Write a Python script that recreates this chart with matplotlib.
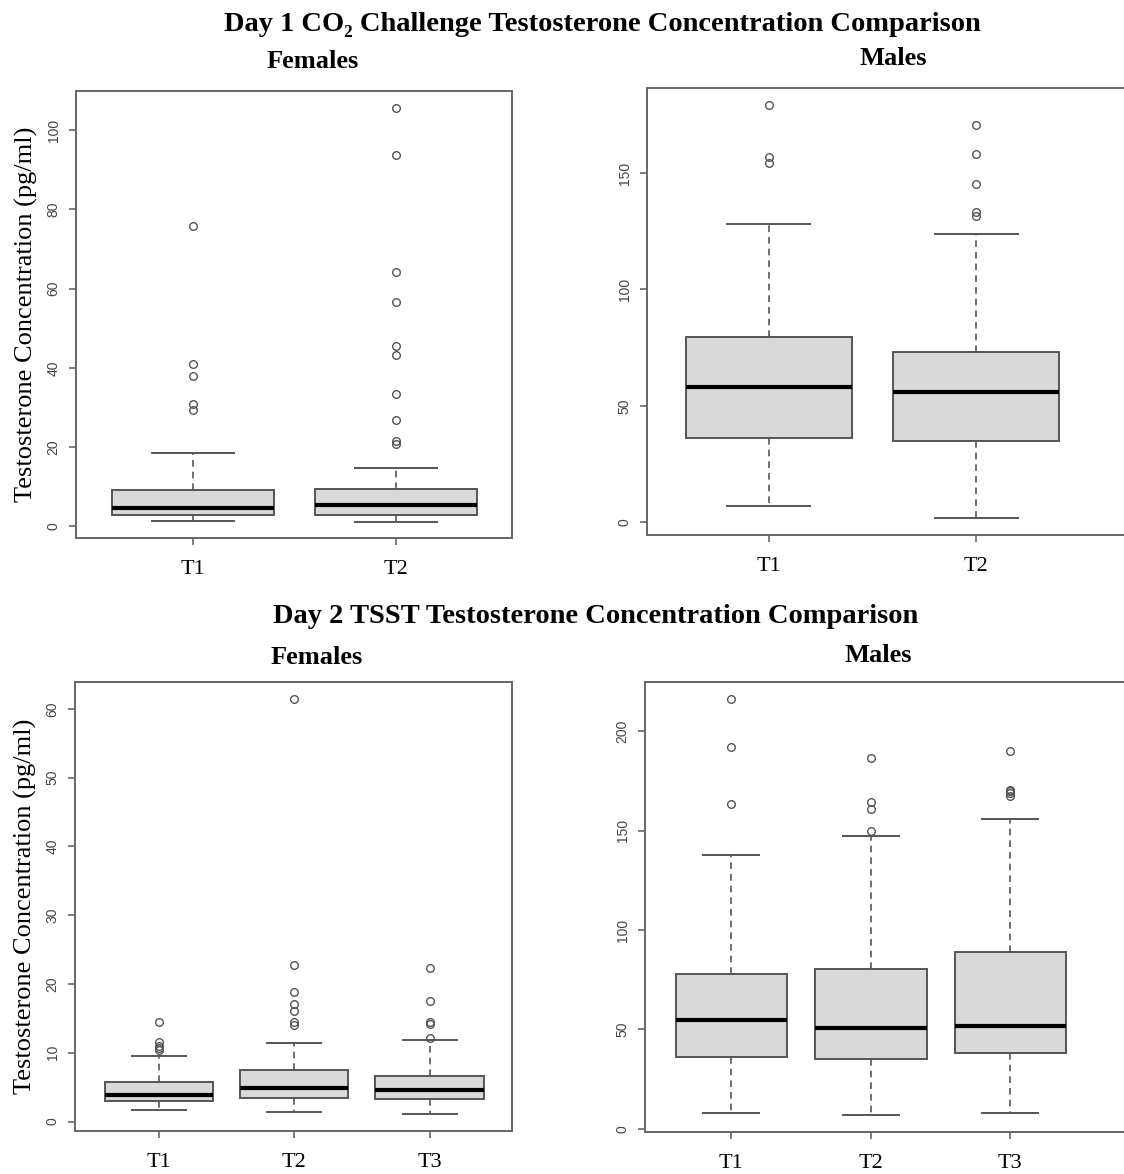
import matplotlib.pyplot as plt

W, H = 1124, 1174

# Day 1 CO2 challenge, females
d1f_labels = ['T1', 'T2']
d1f_med = [4.65, 5.3]
d1f_q1 = [2.8, 2.9]
d1f_q3 = [9.1, 9.35]
d1f_lo = [1.3, 1.1]
d1f_hi = [18.6, 14.6]
d1f_out = [[75.9, 40.9, 38.0, 30.9, 29.4],
           [105.6, 93.8, 64.2, 56.7, 45.6, 43.3, 33.4, 26.8, 21.5, 20.8]]

# Day 1 CO2 challenge, males
d1m_labels = ['T1', 'T2']
d1m_med = [58.3, 56.0]
d1m_q1 = [36.4, 35.1]
d1m_q3 = [79.4, 73.0]
d1m_lo = [6.9, 1.7]
d1m_hi = [128.3, 123.8]
d1m_out = [[179.3, 157.0, 154.1],
           [170.8, 158.0, 145.3, 133.4, 131.4]]

# Day 2 TSST, females
d2f_labels = ['T1', 'T2', 'T3']
d2f_med = [3.92, 4.94, 4.6]
d2f_q1 = [2.96, 3.39, 3.25]
d2f_q3 = [5.76, 7.46, 6.68]
d2f_lo = [1.7, 1.36, 1.12]
d2f_hi = [9.54, 11.38, 11.86]
d2f_out = [[14.5, 11.6, 11.0, 10.65, 10.4],
           [61.5, 22.7, 18.9, 17.1, 16.0, 14.4, 14.1],
           [22.3, 17.5, 14.4, 14.2, 12.2]]

# Day 2 TSST, males
d2m_labels = ['T1', 'T2', 'T3']
d2m_med = [54.7, 50.8, 51.6]
d2m_q1 = [35.9, 34.9, 38.2]
d2m_q3 = [77.8, 80.5, 88.7]
d2m_lo = [7.9, 6.7, 7.9]
d2m_hi = [137.5, 147.1, 155.8]
d2m_out = [[216.3, 192.1, 163.3],
           [186.6, 164.2, 160.8, 149.6],
           [190.3, 170.7, 169.9, 169.1, 167.4]]

SERIF = ['Liberation Serif', 'DejaVu Serif']
LINE = '#555555'

fig = plt.figure(figsize=(W / 100, H / 100), dpi=100)


def make_axes(left, right, top, bottom):
    return fig.add_axes([left / W, 1 - bottom / H, (right - left) / W, (bottom - top) / H])


def draw_panel(ax, labels, med, q1, q3, lo, hi, out, xlim, ylim, yticks, ylabel=None):
    stats = []
    for i in range(len(labels)):
        stats.append(dict(med=med[i], q1=q1[i], q3=q3[i], whislo=lo[i], whishi=hi[i],
                          fliers=out[i], label=labels[i]))
    ax.bxp(stats, widths=0.8, capwidths=0.4, patch_artist=True,
           boxprops=dict(facecolor='#d9d9d9', edgecolor=LINE, linewidth=1.4),
           medianprops=dict(color='black', linewidth=3.0),
           whiskerprops=dict(color=LINE, linewidth=1.2, linestyle=(0, (4, 3))),
           capprops=dict(color=LINE, linewidth=1.4),
           flierprops=dict(marker='o', markersize=5.5, markerfacecolor='none',
                           markeredgecolor=LINE, markeredgewidth=1.0))
    ax.set_xlim(*xlim)
    ax.set_ylim(*ylim)
    ax.set_yticks(yticks)
    for s in ax.spines.values():
        s.set_color('#666666')
        s.set_linewidth(1.4)
    ax.tick_params(axis='x', length=5, width=1.2, color='#666666', pad=11, labelsize=16)
    ax.tick_params(axis='y', length=5, width=1.2, color='#666666', pad=6, labelsize=10,
                   labelcolor='#444444', labelrotation=90)
    for t in ax.get_xticklabels():
        t.set_family(SERIF)
    for t in ax.get_yticklabels():
        t.set_family(['Liberation Sans', 'DejaVu Sans'])
        t.set_verticalalignment('center')
    if ylabel:
        ax.set_ylabel(ylabel, family=SERIF, fontsize=19, labelpad=6)


ylab = 'Testosterone Concentration (pg/ml)'

ax1 = make_axes(76, 512, 91, 538)
draw_panel(ax1, d1f_labels, d1f_med, d1f_q1, d1f_q3, d1f_lo, d1f_hi, d1f_out,
           (0.424, 2.571), (-2.97, 109.9), [0, 20, 40, 60, 80, 100], ylab)

ax2 = make_axes(647, 1130, 88, 535)
draw_panel(ax2, d1m_labels, d1m_med, d1m_q1, d1m_q3, d1m_lo, d1m_hi, d1m_out,
           (0.414, 2.74), (-5.4, 186.5), [0, 50, 100, 150])

ax3 = make_axes(75, 512, 682, 1131)
draw_panel(ax3, d2f_labels, d2f_med, d2f_q1, d2f_q3, d2f_lo, d2f_hi, d2f_out,
           (0.381, 3.608), (-1.38, 63.9), [0, 10, 20, 30, 40, 50, 60], ylab)

ax4 = make_axes(645, 1130, 682, 1132)
draw_panel(ax4, d2m_labels, d2m_med, d2m_q1, d2m_q3, d2m_lo, d2m_hi, d2m_out,
           (0.381, 3.858), (-1.66, 224.8), [0, 50, 100, 150, 200])

fig.text(602 / W, 1 - 31 / H, 'Day 1 CO\u2082 Challenge Testosterone Concentration Comparison',
         ha='center', va='baseline', family=SERIF, fontweight='bold', fontsize=20.5)
fig.text(313 / W, 1 - 68 / H, 'Females', ha='center', va='baseline',
         family=SERIF, fontweight='bold', fontsize=19)
fig.text(893 / W, 1 - 65 / H, 'Males', ha='center', va='baseline',
         family=SERIF, fontweight='bold', fontsize=19)

fig.text(596 / W, 1 - 623 / H, 'Day 2 TSST Testosterone Concentration Comparison',
         ha='center', va='baseline', family=SERIF, fontweight='bold', fontsize=20.5)
fig.text(317 / W, 1 - 664 / H, 'Females', ha='center', va='baseline',
         family=SERIF, fontweight='bold', fontsize=19)
fig.text(878 / W, 1 - 662 / H, 'Males', ha='center', va='baseline',
         family=SERIF, fontweight='bold', fontsize=19)

fig.savefig('out.png', dpi=100)
